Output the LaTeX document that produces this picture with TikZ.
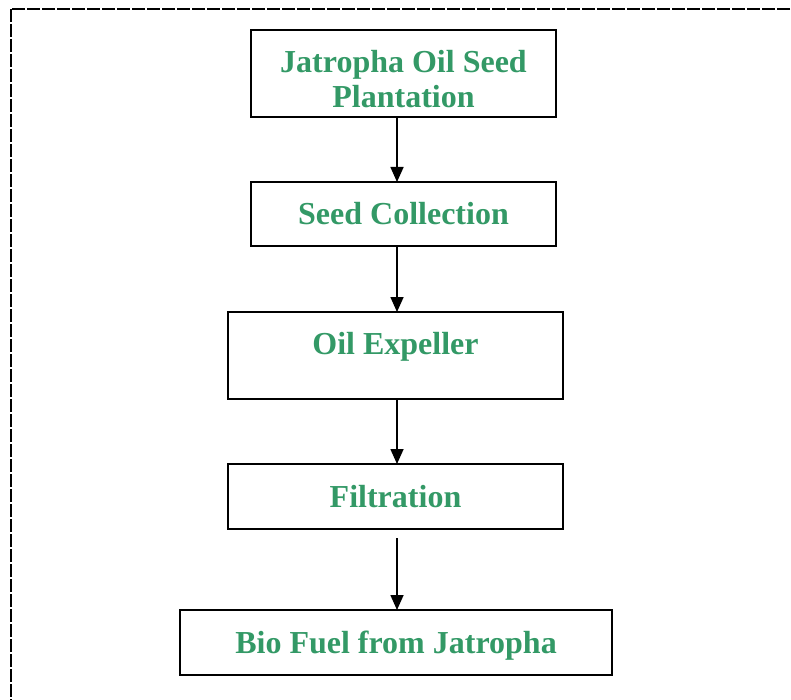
\documentclass[tikz,border=0pt]{standalone}
\usepackage{fontspec}
\setmainfont{Liberation Serif}
\usetikzlibrary{arrows.meta}
\definecolor{stagegreen}{RGB}{51,153,102}
\begin{document}
\begin{tikzpicture}[x=1pt,y=-1pt,>={Triangle[length=15pt,width=13pt]},line join=miter,
  stage/.style={draw,line width=1.6pt,inner sep=0pt,outer sep=0pt,align=center,
    text=stagegreen,font=\fontsize{32}{35}\selectfont\bfseries,text height=25pt,text depth=4pt},
  flow/.style={black,line width=1.6pt,->}]
\useasboundingbox (0,0) rectangle (791,700);
%%
\draw [line width=1.6pt,dash pattern=on 13pt off 2pt] (11,9) rectangle (800,712);
\node (stage_0) at (403.5,73.5) [stage,minimum width=305pt,minimum height=87pt,text height=69pt,text depth=0pt] {Jatropha Oil Seed\\Plantation};
  \node (stage_1) at (403.5,214) [stage,minimum width=305pt,minimum height=64pt] {Seed Collection};
  \node (stage_2) at (395.5,355.5) [stage,minimum width=335pt,minimum height=87pt,text depth=27pt] {Oil Expeller};
  \node (stage_3) at (395.5,496.5) [stage,minimum width=335pt,minimum height=65pt] {Filtration};
  \node (stage_4) at (396,642.5) [stage,minimum width=432pt,minimum height=65pt] {Bio Fuel from Jatropha};
  \draw [flow] (stage_0.south -| 397,0) -- (stage_1.north -| 397,0);
  \draw [flow] (stage_1.south -| 397,0) -- (stage_2.north -| 397,0);
  \draw [flow] (stage_2.south -| 397,0) -- (stage_3.north -| 397,0);
  \draw [flow,shorten <=9pt] (stage_3.south -| 397,0) -- (stage_4.north -| 397,0);
%
\end{tikzpicture}
\end{document}
